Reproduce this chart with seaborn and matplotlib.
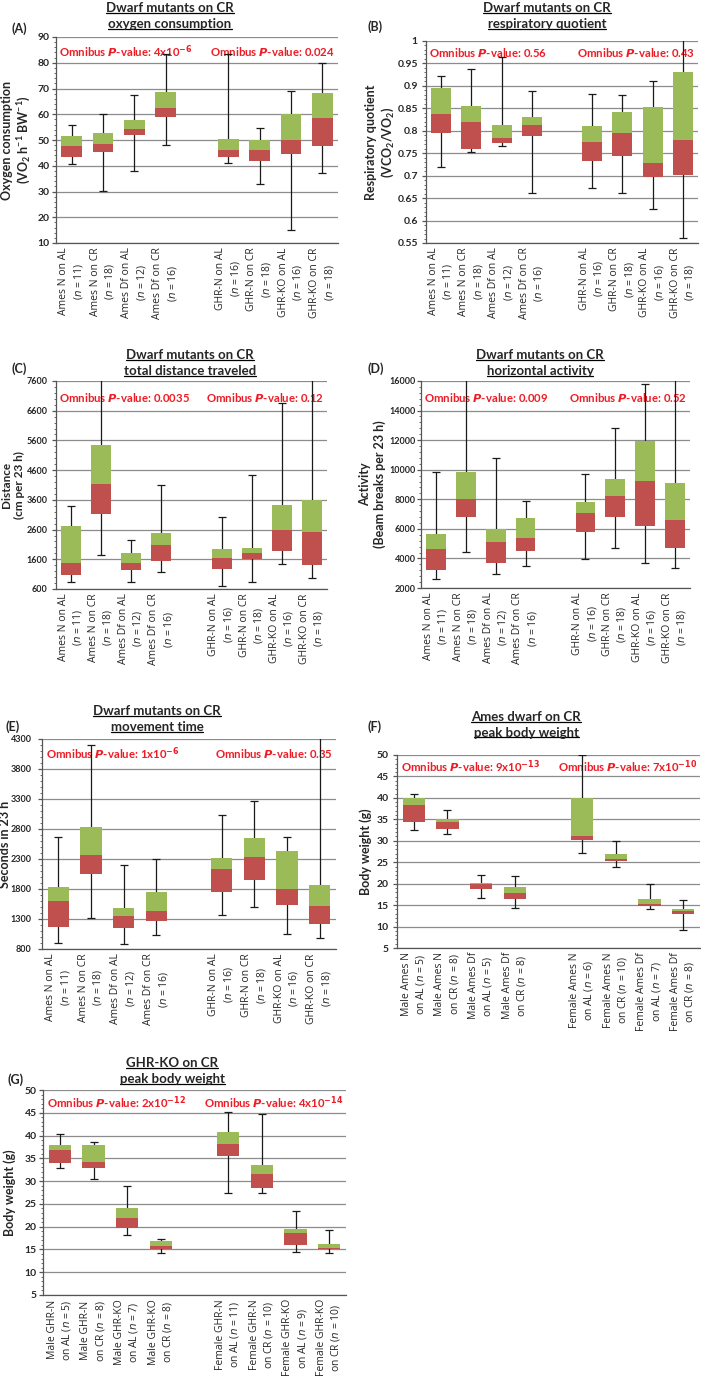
import matplotlib
matplotlib.use("Agg")
import matplotlib.pyplot as plt
from matplotlib.lines import Line2D
from matplotlib.ticker import FixedLocator, AutoMinorLocator, FuncFormatter
import seaborn as sns
import pandas as pd
import numpy as np

sns.set_theme(style="white")
plt.rcParams["font.family"] = ["Lato", "DejaVu Sans"]
plt.rcParams["mathtext.default"] = "regular"

GREEN = "#9bbb59"
RED = "#c0504d"
PRED = "#ee1c25"

W, H = 701, 1383

# ---------------- data ----------------
dwarf_groups = ["Ames N on AL\n($\\mathit{n}$ = 11)", "Ames N on CR\n($\\mathit{n}$ = 18)",
                "Ames Df on AL\n($\\mathit{n}$ = 12)", "Ames Df on CR\n($\\mathit{n}$ = 16)",
                "GHR-N on AL\n($\\mathit{n}$ = 16)", "GHR-N on CR\n($\\mathit{n}$ = 18)",
                "GHR-KO on AL\n($\\mathit{n}$ = 16)", "GHR-KO on CR\n($\\mathit{n}$ = 18)"]
ames_groups = ["Male Ames N\non AL ($\\mathit{n}$ = 5)", "Male Ames N\non CR ($\\mathit{n}$ = 8)",
               "Male Ames Df\non AL ($\\mathit{n}$ = 5)", "Male Ames Df\non CR ($\\mathit{n}$ = 8)",
               "Female Ames N\non AL ($\\mathit{n}$ = 6)", "Female Ames N\non CR ($\\mathit{n}$ = 10)",
               "Female Ames Df\non AL ($\\mathit{n}$ = 7)", "Female Ames Df\non CR ($\\mathit{n}$ = 8)"]
ghr_groups = ["Male GHR-N\non AL ($\\mathit{n}$ = 5)", "Male GHR-N\non CR ($\\mathit{n}$ = 8)",
              "Male GHR-KO\non AL ($\\mathit{n}$ = 7)", "Male GHR-KO\non CR ($\\mathit{n}$ = 8)",
              "Female GHR-N\non AL ($\\mathit{n}$ = 11)", "Female GHR-N\non CR ($\\mathit{n}$ = 10)",
              "Female GHR-KO\non AL ($\\mathit{n}$ = 9)", "Female GHR-KO\non CR ($\\mathit{n}$ = 10)"]

# (A) oxygen consumption
o2_min = [40.8, 30.2, 37.9, 47.9, 40.9, 33.0, 15.0, 37.0]
o2_q1 = [43.5, 45.3, 51.8, 59.1, 43.3, 42.0, 44.6, 47.8]
o2_med = [47.5, 48.3, 54.2, 62.5, 46.0, 46.2, 50.0, 58.5]
o2_q3 = [51.5, 52.8, 57.8, 68.6, 50.3, 50.0, 60.0, 68.2]
o2_max = [55.7, 60.0, 67.5, 83.3, 83.3, 54.5, 69.0, 79.8]

# (B) respiratory quotient
rq_min = [0.720, 0.753, 0.765, 0.662, 0.673, 0.661, 0.626, 0.561]
rq_q1 = [0.796, 0.759, 0.773, 0.788, 0.733, 0.744, 0.697, 0.701]
rq_med = [0.838, 0.819, 0.784, 0.813, 0.774, 0.795, 0.729, 0.779]
rq_q3 = [0.895, 0.856, 0.813, 0.830, 0.810, 0.841, 0.852, 0.930]
rq_max = [0.921, 0.938, 0.964, 0.889, 0.881, 0.880, 0.911, 1.02]

# (C) total distance
dist_min = [850, 1760, 850, 1160, 690, 825, 1440, 980]
dist_q1 = [1070, 3110, 1230, 1540, 1285, 1610, 1880, 1420]
dist_med = [1480, 4120, 1480, 2080, 1645, 1825, 2590, 2520]
dist_q3 = [2720, 5430, 1810, 2480, 1950, 1990, 3430, 3600]
dist_max = [3400, 7800, 2260, 4110, 3020, 4440, 6860, 7800]

# (D) horizontal activity
act_min = [2580, 4430, 2950, 3470, 3950, 4700, 3720, 3330]
act_q1 = [3250, 6810, 3670, 4510, 5820, 6810, 6170, 4680]
act_med = [4630, 8000, 5140, 5410, 7050, 8230, 9230, 6630]
act_q3 = [5640, 9840, 6000, 6720, 7800, 9370, 11910, 9070]
act_max = [9820, 16500, 10820, 7890, 9730, 12810, 15800, 16500]

# (E) movement time
mov_min = [906, 1311, 889, 1033, 1367, 1494, 1044, 989]
mov_q1 = [1161, 2050, 1150, 1272, 1756, 1956, 1533, 1222]
mov_med = [1606, 2372, 1350, 1439, 2139, 2333, 1794, 1511]
mov_q3 = [1833, 2828, 1489, 1744, 2317, 2644, 2439, 1872]
mov_max = [2667, 4200, 2206, 2294, 3033, 3267, 2667, 4400]

# (F) Ames body weight
abw_min = [32.6, 31.5, 16.6, 14.4, 27.1, 24.0, 14.2, 9.3]
abw_q1 = [34.4, 32.8, 18.7, 16.4, 30.1, 25.3, 14.9, 12.9]
abw_med = [38.4, 34.3, 19.9, 17.8, 31.0, 25.8, 15.2, 13.6]
abw_q3 = [40.0, 35.0, 20.2, 19.3, 39.9, 27.0, 16.4, 14.2]
abw_max = [41.0, 37.2, 22.0, 21.9, 50.0, 30.0, 20.0, 16.2]

# (G) GHR-KO body weight
gbw_min = [32.9, 30.5, 18.2, 14.3, 27.4, 27.5, 14.4, 14.2]
gbw_q1 = [33.9, 32.9, 19.8, 15.0, 35.5, 28.5, 16.0, 15.0]
gbw_med = [36.8, 34.2, 22.0, 15.8, 38.1, 31.5, 18.7, 15.3]
gbw_q3 = [38.0, 37.9, 24.1, 16.9, 40.8, 33.6, 19.5, 16.1]
gbw_max = [40.4, 38.6, 29.0, 17.4, 45.1, 44.8, 23.5, 19.2]


def pval(s):
    return "Omnibus $\\mathbfit{P}$-value: " + s


fig = plt.figure(figsize=(W / 100, H / 100), dpi=100)
title_texts = []


def px_rect(x0, x1, y0, y1):
    return [x0 / W, 1 - y1 / H, (x1 - x0) / W, (y1 - y0) / H]


def panel(box, groups, lo, q1, med, q3, hi, ylim, step, ylabel, ylab_right, tick_gap,
          ptxt, pos_y, title, title_x, title_y, letter, letter_xy, tsize=7.5, lsize=9):
    ax = fig.add_axes(px_rect(*box))
    order = groups[:4] + [" "] + groups[4:]
    df = pd.DataFrame({"group": groups, "lo": lo, "q1": q1, "med": med, "q3": q3, "hi": hi})
    df["lower"] = df["med"] - df["q1"]
    df["upper"] = df["q3"] - df["med"]
    sns.barplot(data=df, x="group", y="lower", bottom=df["q1"].values, order=order,
                color=RED, saturation=1, width=0.66, errorbar=None, ax=ax, zorder=3,
                linewidth=0, edgecolor="none")
    sns.barplot(data=df, x="group", y="upper", bottom=df["med"].values, order=order,
                color=GREEN, saturation=1, width=0.66, errorbar=None, ax=ax, zorder=3,
                linewidth=0, edgecolor="none")
    xpos = [order.index(g) for g in groups]
    ax.errorbar(xpos, df["med"], yerr=[df["med"] - df["lo"], df["hi"] - df["med"]],
                fmt="none", ecolor="#1a1a1a", elinewidth=0.9, capsize=3, capthick=0.9, zorder=2)
    ax.set_xlim(-0.5, 8.5)
    ax.set_ylim(*ylim)
    ax.yaxis.set_major_locator(FixedLocator(np.arange(ylim[0], ylim[1] + step / 2, step)))
    ax.yaxis.set_minor_locator(AutoMinorLocator(5))
    ax.yaxis.set_major_formatter(FuncFormatter(lambda v, p: "{:g}".format(round(v, 4))))
    ax.yaxis.grid(True, color="#8c8c8c", lw=0.9)
    ax.set_axisbelow(True)
    for s in ["top", "right"]:
        ax.spines[s].set_visible(False)
    for s in ["left", "bottom"]:
        ax.spines[s].set_color("#555555")
        ax.spines[s].set_linewidth(0.9)
    ax.set_xticks(range(9))
    ax.set_xticklabels(order, rotation=90, ha="center", va="top",
                       fontsize=7.5, family="Open Sans", linespacing=1.25)
    for t in ax.get_xticklabels():
        t.set_multialignment("center")
    ax.set_xticks(np.arange(-0.5, 9, 1), minor=True)
    ax.tick_params(axis="x", which="major", length=0, pad=3)
    ax.tick_params(axis="x", which="minor", length=4, width=0.9, color="#555555", direction="out")
    ax.tick_params(axis="y", which="major", length=3, width=0.9, color="#555555",
                   direction="out", left=True, labelsize=tsize, pad=max(tick_gap - 4, 1) * 0.72)
    ax.tick_params(axis="y", which="minor", length=1.6, width=0.6, color="#555555",
                   direction="out", left=True)
    for t in ax.get_yticklabels():
        t.set_fontweight("bold")
    ax.set_xlabel("")
    ax.set_ylabel(ylabel, fontsize=lsize, fontweight="bold", linespacing=1.2)
    ax.yaxis.set_label_coords((ylab_right - box[0]) / (box[1] - box[0]), 0.5)
    ax.text(0.012, pos_y, pval(ptxt[0]), transform=ax.transAxes, ha="left", va="center",
            color=PRED, fontsize=8.2, fontweight="bold", zorder=1)
    ax.text(0.99, pos_y, pval(ptxt[1]), transform=ax.transAxes, ha="right", va="center",
            color=PRED, fontsize=8.2, fontweight="bold", zorder=1)
    for i, line in enumerate(title):
        t = fig.text(title_x / W, 1 - (title_y + 16 * i) / H, line, ha="center", va="center",
                     fontsize=9.5, fontweight="bold")
        title_texts.append(t)
    fig.text(letter_xy[0] / W, 1 - letter_xy[1] / H, letter, ha="left", va="center",
             fontsize=9, fontweight="bold")
    return ax


panel((56, 338, 37, 243), dwarf_groups, o2_min, o2_q1, o2_med, o2_q3, o2_max, (10, 90), 10,
      "Oxygen consumption\n(VO$_2$ h$^{-1}$ BW$^{-1}$)", 33, 6, ["4x10$^{\\mathbf{-6}}$", "0.024"], 0.93,
      ["Dwarf mutants on CR", "oxygen consumption"], 170, 8, "(A)", (12, 29))
panel((426, 698, 41, 243), dwarf_groups, rq_min, rq_q1, rq_med, rq_q3, rq_max, (0.55, 1.0), 0.05,
      "Respiratory quotient\n(VCO$_2$/VO$_2$)", 396, 8, ["0.56", "0.43"], 0.945,
      ["Dwarf mutants on CR", "respiratory quotient"], 547, 8, "(B)", (367, 27))
panel((56, 327, 381, 589), dwarf_groups, dist_min, dist_q1, dist_med, dist_q3, dist_max, (600, 7600), 1000,
      "Distance\n(cm per 23 h)", 25, 8, ["0.0035", "0.12"], 0.92,
      ["Dwarf mutants on CR", "total distance traveled"], 190, 355, "(C)", (12, 369), tsize=6.5, lsize=8.5)
panel((421, 690, 381, 588), dwarf_groups, act_min, act_q1, act_med, act_q3, act_max, (2000, 16000), 2000,
      "Activity\n(Beam breaks per 23 h)", 386, 5, ["0.009", "0.52"], 0.92,
      ["Dwarf mutants on CR", "horizontal activity"], 540, 355, "(D)", (367, 369), tsize=6.5)
panel((42, 336, 739, 949), dwarf_groups, mov_min, mov_q1, mov_med, mov_q3, mov_max, (800, 4300), 500,
      "Seconds in 23 h", 11, 10, ["1x10$^{\\mathbf{-6}}$", "0.35"], 0.93,
      ["Dwarf mutants on CR", "movement time"], 157, 711, "(E)", (6, 727), tsize=6.5)
panel((397, 700, 755, 948), ames_groups, abw_min, abw_q1, abw_med, abw_q3, abw_max, (5, 50), 5,
      "Body weight (g)", 372, 8, ["9x10$^{\\mathbf{-13}}$", "7x10$^{\\mathbf{-10}}$"], 0.94,
      ["Ames dwarf on CR", "peak body weight"], 526, 717, "(F)", (367, 727))
panel((43, 346, 1090, 1295), ghr_groups, gbw_min, gbw_q1, gbw_med, gbw_q3, gbw_max, (5, 50), 5,
      "Body weight (g)", 16, 6, ["2x10$^{\\mathbf{-12}}$", "4x10$^{\\mathbf{-14}}$"], 0.94,
      ["GHR-KO on CR", "peak body weight"], 172, 1063, "(G)", (8, 1080))

# underline the panel titles
fig.canvas.draw()
renderer = fig.canvas.get_renderer()
for t in title_texts:
    bb = t.get_window_extent(renderer)
    y = (bb.y0 + 1.5) / H
    fig.add_artist(Line2D([bb.x0 / W, bb.x1 / W], [y, y], transform=fig.transFigure,
                          color="black", lw=0.9))

fig.savefig("out.png", dpi=100)
